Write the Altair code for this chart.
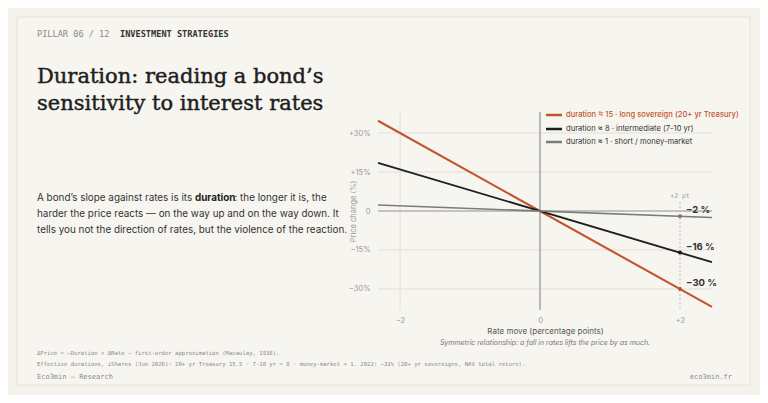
import altair as alt
import pandas as pd

# ---- data ----
series_names = [
    "duration ≈ 15 · long sovereign (20+ yr Treasury)",
    "duration ≈ 8 · intermediate (7-10 yr)",
    "duration ≈ 1 · short / money-market",
]
series_colors = ["#c0562f", "#1e1e1e", "#7b7b7b"]
rate_ends = [-2.315, 2.457]          # rate move (pp) at both ends of each line
long_ends = [34.7, -36.9]            # price change (%)
mid_ends = [18.5, -19.7]
short_ends = [2.3, -2.5]
marker_rate = [2, 2, 2]
marker_values = [-30, -16, -2]
marker_labels = ["−30 %", "−16 %", "−2 %"]
y_ticks = [-30, -15, 0, 15, 30]
x_ticks = [-2, 0, 2]
x_grid = [-2]
y_grid = [-30, -15, 15, 30]

lines_df = pd.DataFrame({
    "rate": rate_ends * 3,
    "price": long_ends + mid_ends + short_ends,
    "series": [series_names[0]] * 2 + [series_names[1]] * 2 + [series_names[2]] * 2,
})
marks_df = pd.DataFrame({"rate": marker_rate, "price": marker_values,
                         "label": marker_labels, "series": series_names})

XDOM = [-2.315, 2.457]
YDOM = [-38.08, 38.08]
xs = alt.Scale(domain=XDOM, nice=False, zero=False)
ys = alt.Scale(domain=YDOM, nice=False, zero=False)
cs = alt.Scale(domain=series_names, range=series_colors)

one = pd.DataFrame({"k": [0]})
SANS = "Inter"
MONO = "DejaVu Sans Mono"
SERIF = "DejaVu Serif"


def txt(s, x, y, **kw):
    kw.setdefault("align", "left")
    kw.setdefault("baseline", "middle")
    return alt.Chart(one).mark_text(text=s, **kw).encode(x=alt.value(x), y=alt.value(y))


card = alt.Chart(one).mark_rect(fill="#f7f5f0", stroke="#e6e2d9", strokeWidth=1).encode(
    x=alt.value(-361), x2=alt.value(372), y=alt.value(-95), y2=alt.value(273))

vgrid = alt.Chart(pd.DataFrame({"rate": x_grid})).mark_rule(color="#e3dfd7", strokeWidth=1).encode(
    x=alt.X("rate:Q", scale=xs))
hgrid = alt.Chart(pd.DataFrame({"price": y_grid})).mark_rule(color="#e3dfd7", strokeWidth=1).encode(
    y=alt.Y("price:Q", scale=ys))
zero_v = alt.Chart(pd.DataFrame({"rate": [0]})).mark_rule(color="#a9a9a9", strokeWidth=1.6).encode(
    x=alt.X("rate:Q", scale=xs))
zero_h = alt.Chart(pd.DataFrame({"price": [0]})).mark_rule(color="#8f8f8f", strokeWidth=1.1).encode(
    y=alt.Y("price:Q", scale=ys))
dash_v = alt.Chart(pd.DataFrame({"rate": [2], "top": [3.4], "bot": [YDOM[0]]})).mark_rule(
    color="#bdbdbd", strokeWidth=1, strokeDash=[2, 2]).encode(
    x=alt.X("rate:Q", scale=xs), y=alt.Y("top:Q", scale=ys), y2="bot:Q")

axes = alt.Chart(pd.DataFrame({"rate": [0.0], "price": [0.0]})).mark_point(opacity=0).encode(
    x=alt.X("rate:Q", scale=xs, title="Rate move (percentage points)",
            axis=alt.Axis(values=x_ticks, grid=False, domain=False, ticks=False, zindex=2,
                          labelExpr="datum.value > 0 ? '+' + datum.value : (datum.value < 0 ? '−' + abs(datum.value) : '0')",
                          labelFont=SANS, labelFontSize=7.5, labelColor="#9a9a9a", labelPadding=6,
                          titleFont=SANS, titleFontSize=8, titleFontWeight="normal", titleColor="#555555",
                          titlePadding=4)),
    y=alt.Y("price:Q", scale=ys, title="Price change (%)",
            axis=alt.Axis(values=y_ticks, grid=False, domain=False, ticks=False, zindex=2,
                          labelExpr="datum.value > 0 ? '+' + datum.value + '%' : (datum.value < 0 ? '−' + abs(datum.value) + '%' : '0')",
                          labelFont=SANS, labelFontSize=7.5, labelColor="#9a9a9a", labelPadding=8,
                          titleFont=SANS, titleFontSize=7.5, titleFontWeight="normal", titleColor="#9a9a9a",
                          titleX=-25, titleY=99, titleAngle=-90, titleAlign="center", titleBaseline="middle")),
)

lines = alt.Chart(lines_df).mark_line(strokeCap="butt").encode(
    x=alt.X("rate:Q", scale=xs),
    y=alt.Y("price:Q", scale=ys),
    color=alt.Color("series:N", scale=cs, legend=None),
    strokeWidth=alt.StrokeWidth("series:N", scale=alt.Scale(domain=series_names, range=[2.1, 1.6, 1.5]), legend=None),
)
pts = alt.Chart(marks_df).mark_circle(size=16, opacity=1).encode(
    x=alt.X("rate:Q", scale=xs), y=alt.Y("price:Q", scale=ys),
    color=alt.Color("series:N", scale=cs, legend=None))
pt_labels = alt.Chart(marks_df).mark_text(align="left", baseline="middle", dx=6, dy=-6,
                                          font=SANS, fontSize=9.5, fontWeight="bold", color="#333333").encode(
    x=alt.X("rate:Q", scale=xs), y=alt.Y("price:Q", scale=ys), text="label:N")
pt_head = txt("+2 pt", 302, 84, align="center", font=MONO, fontSize=6.5, color="#a0a0a0")

legend_layers = []
for i, (nm, col, yy) in enumerate(zip(series_names, series_colors, [3, 17, 30])):
    legend_layers.append(alt.Chart(one).mark_rule(color=col, strokeWidth=2.5).encode(
        x=alt.value(168), x2=alt.value(184), y=alt.value(yy)))
    legend_layers.append(txt(nm, 188, yy, font=SANS, fontSize=7.6,
                             fontWeight=500 if i == 0 else "normal",
                             color=col if i == 0 else "#333333"))

PFS = 9.9
texts = [
    txt("PILLAR 06 / 12", -341, -78, font=MONO, fontSize=8.6, color="#8a8a8a"),
    txt("INVESTMENT STRATEGIES", -258, -78, font=MONO, fontSize=8.6, fontWeight="bold", color="#333333"),
    txt("Duration: reading a bond’s", -341, -29, baseline="alphabetic", font=SERIF, fontSize=21,
        color="#1e1e1e", stroke="#1e1e1e", strokeWidth=0.45),
    txt("sensitivity to interest rates", -341, -2, baseline="alphabetic", font=SERIF, fontSize=21,
        color="#1e1e1e", stroke="#1e1e1e", strokeWidth=0.45),
    txt("A bond’s slope against rates is its", -341, 86, font=SANS, fontSize=PFS, color="#333333"),
    txt("duration", -183, 86, font=SANS, fontSize=PFS, fontWeight="bold", color="#1e1e1e"),
    txt(": the longer it is, the", -143.5, 86, font=SANS, fontSize=PFS, color="#333333"),
    txt("harder the price reacts — on the way up and on the way down. It", -341, 102, font=SANS, fontSize=PFS, color="#333333"),
    txt("tells you not the direction of rates, but the violence of the reaction.", -341, 118, font=SANS, fontSize=PFS, color="#333333"),
    txt("Symmetric relationship: a fall in rates lifts the price by as much.", 167, 231, align="center",
        font=SANS, fontSize=7, fontStyle="italic", color="#777777"),
    txt("ΔPrice ≈ −Duration × ΔRate — first-order approximation (Macaulay, 1938).", -341, 241,
        font=MONO, fontSize=5.6, color="#8a8a8a"),
    txt("Effective durations, iShares (Jun 2026): 20+ yr Treasury 15.5 · 7-10 yr ≈ 8 · money-market < 1. 2022: −31% (20+ yr sovereigns, NAV total return).",
        -341, 252, font=MONO, fontSize=5.6, color="#8a8a8a"),
    txt("Eco3min — Research", -341, 265, font=MONO, fontSize=7, color="#8a8a8a"),
    txt("eco3min.fr", 354, 265, align="right", font=MONO, fontSize=7, color="#8a8a8a"),
]

chart = alt.layer(
    card, vgrid, hgrid, zero_v, zero_h, dash_v, axes, lines, pts, pt_labels, pt_head,
    *legend_layers, *texts
).properties(
    width=334, height=198,
    padding={"left": 370, "top": 104, "right": 48, "bottom": 85},
    autosize=alt.AutoSizeParams(type="none"),
    background="#f5f2ec",
).configure_view(stroke=None)

chart.save("out.html", embed_options={"renderer": "svg", "actions": False})
